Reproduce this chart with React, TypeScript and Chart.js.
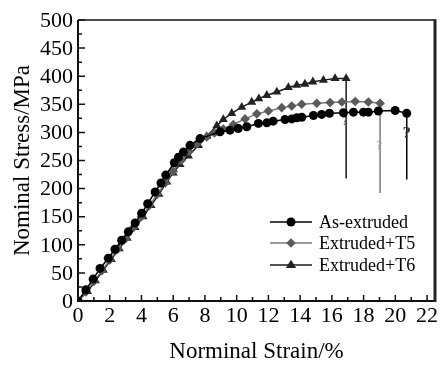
import React, { useEffect, useRef } from 'react';
import { Chart, registerables } from 'chart.js';

Chart.register(...registerables);

const FONT = '"Liberation Serif", "Times New Roman", Times, serif';

// As-extruded
const asStrain = [0, 0.5, 0.95, 1.39, 1.91, 2.33, 2.75, 3.17, 3.6, 4.01, 4.39, 4.86, 5.23, 5.53, 6.07, 6.33, 6.64, 7.06, 7.69, 8.95, 9.58, 10.1, 10.64, 11.37, 11.9, 12.3, 13.05, 13.47, 13.79, 14.1, 14.84, 15.36, 15.85, 16.73, 17.36, 17.99, 18.3, 18.93, 19.99, 20.72];
const asStress = [0, 20, 39, 58, 76, 92, 108, 123, 139, 156, 173, 194, 210, 224, 246, 256, 265, 277, 289, 301, 304, 307, 310, 316, 317, 320, 323, 324, 326, 327, 330, 332, 334, 335, 336, 336, 336, 338, 339, 334];
const asDrop = 216;

// Extruded+T5
const t5Strain = [0, 0.5, 1.0, 1.5, 2.0, 2.5, 3.0, 3.5, 4.0, 4.5, 5.0, 5.5, 6.0, 6.5, 7.0, 7.5, 8.11, 8.6, 9.16, 9.79, 10.53, 11.27, 12.0, 12.84, 13.47, 14.1, 15.05, 15.89, 16.63, 17.47, 18.3, 19.04];
const t5Stress = [0, 16, 35, 54, 73, 92, 111, 131, 150, 170, 190, 210, 231, 250, 266, 280, 292, 299, 306, 314, 324, 333, 338, 344, 347, 350, 352, 353, 354, 355, 354, 352];
const t5Drop = 192;

// Extruded+T6
const t6Strain = [0, 0.6, 1.1, 1.6, 2.1, 2.6, 3.1, 3.6, 4.1, 4.6, 5.1, 5.6, 6.0, 6.43, 6.96, 7.59, 8.11, 8.75, 9.16, 9.69, 10.32, 10.95, 11.4, 11.9, 12.53, 13.26, 13.79, 14.3, 14.8, 15.47, 16.2, 16.9];
const t6Stress = [0, 17, 36, 55, 74, 93, 112, 131, 150, 170, 190, 212, 228, 243, 258, 277, 293, 312, 323, 334, 345, 354, 360, 366, 372, 380, 384, 386, 390, 393, 396, 396];
const t6Drop = 218;

const seriesLabels = ['As-extruded', 'Extruded+T5', 'Extruded+T6'];
const lineColors = ['#000000', '#7a7a7a', '#1a1a1a'];
const markerColors = ['#000000', '#5a5a5a', '#222222'];
const markerStyles = ['circle', 'rectRot', 'triangle'];
const markerRadii = [4.5, 4.8, 5.2];

const xTickValues = [0, 2, 4, 6, 8, 10, 12, 14, 16, 18, 20, 22];
const yTickValues = [0, 50, 100, 150, 200, 250, 300, 350, 400, 450, 500];
const yTickLabels = ['0', '50', '100', '150', '200', '250', '300', '350', '400', '450', '500'];

// stray "?" marks in the figure (strain, stress)
const qmStrain = [16.8, 18.98, 20.72];
const qmStress = [318, 276, 297];
const qmColors = ['#555555', '#888888', '#333333'];
const qmSizes = [12, 13, 17];

const xTitle = 'Norminal Strain/%';
const yTitle = 'Nominal Stress/MPa';

function build(strain: number[], stress: number[], drop: number) {
  const pts = strain.map((x, i) => ({ x, y: stress[i] }));
  pts.push({ x: strain[strain.length - 1], y: drop });
  return pts;
}

function drawMarker(ctx: CanvasRenderingContext2D, style: string, x: number, y: number, r: number, color: string) {
  ctx.save();
  ctx.fillStyle = color;
  ctx.beginPath();
  if (style === 'circle') {
    ctx.arc(x, y, r, 0, Math.PI * 2);
  } else if (style === 'rectRot') {
    ctx.moveTo(x, y - r);
    ctx.lineTo(x + r, y);
    ctx.lineTo(x, y + r);
    ctx.lineTo(x - r, y);
    ctx.closePath();
  } else {
    ctx.moveTo(x, y - r);
    ctx.lineTo(x + r, y + r * 0.6);
    ctx.lineTo(x - r, y + r * 0.6);
    ctx.closePath();
  }
  ctx.fill();
  ctx.restore();
}

const framePlugin = {
  id: 'framePlugin',
  afterDraw(chart: any) {
    const { ctx, chartArea, scales } = chart;
    const { left, right, top, bottom } = chartArea;
    ctx.save();
    for (let i = 0; i < qmStrain.length; i++) {
      ctx.fillStyle = qmColors[i];
      ctx.font = `${i === 2 ? 'bold ' : ''}${qmSizes[i]}px ${FONT}`;
      ctx.textAlign = 'center';
      ctx.textBaseline = 'middle';
      ctx.fillText('?', scales.x.getPixelForValue(qmStrain[i]), scales.y.getPixelForValue(qmStress[i]));
    }
    // y tick labels
    ctx.fillStyle = '#000';
    ctx.font = `22px ${FONT}`;
    ctx.textAlign = 'right';
    ctx.textBaseline = 'middle';
    for (let i = 0; i < yTickValues.length; i++) {
      ctx.fillText(yTickLabels[i], left - 5, scales.y.getPixelForValue(yTickValues[i]) + 1);
    }
    ctx.strokeStyle = '#111';
    ctx.lineWidth = 2;
    ctx.beginPath();
    ctx.moveTo(left, top);
    ctx.lineTo(left, bottom);
    ctx.lineTo(right, bottom);
    ctx.stroke();
    ctx.lineWidth = 1.5;
    ctx.beginPath();
    ctx.moveTo(left, top);
    ctx.lineTo(right, top);
    ctx.stroke();
    ctx.lineWidth = 3;
    ctx.strokeStyle = '#222';
    ctx.beginPath();
    ctx.moveTo(right, top - 0.75);
    ctx.lineTo(right, bottom + 1);
    ctx.stroke();
    ctx.strokeStyle = '#111';
    ctx.lineWidth = 1.5;
    ctx.beginPath();
    for (let v = 0; v <= 22; v += 1) {
      const px = scales.x.getPixelForValue(v);
      const len = v % 2 === 0 ? 6 : 4;
      ctx.moveTo(px, bottom);
      ctx.lineTo(px, bottom - len);
    }
    for (let v = 0; v <= 500; v += 25) {
      const py = scales.y.getPixelForValue(v);
      const len = v % 50 === 0 ? 7 : 4;
      ctx.moveTo(left, py);
      ctx.lineTo(left + len, py);
    }
    ctx.stroke();
    const rowsY = [222, 243, 265];
    const x0 = 270, x1 = 312, tx = 319;
    for (let i = 0; i < seriesLabels.length; i++) {
      const y = rowsY[i];
      ctx.strokeStyle = lineColors[i];
      ctx.lineWidth = 1.5;
      ctx.beginPath();
      ctx.moveTo(x0, y);
      ctx.lineTo(x1, y);
      ctx.stroke();
      drawMarker(ctx, markerStyles[i], (x0 + x1) / 2, y, markerRadii[i], markerColors[i]);
      ctx.fillStyle = '#000';
      ctx.font = `18px ${FONT}`;
      ctx.textAlign = 'left';
      ctx.textBaseline = 'middle';
      ctx.fillText(seriesLabels[i], tx, y + 1);
    }
    ctx.restore();
  },
};

export default function App() {
  const ref = useRef<HTMLCanvasElement>(null);
  useEffect(() => {
    if (!ref.current) return;
    const sets = [
      build(asStrain, asStress, asDrop),
      build(t5Strain, t5Stress, t5Drop),
      build(t6Strain, t6Stress, t6Drop),
    ];
    const chart = new Chart(ref.current, {
      type: 'line',
      data: {
        datasets: sets.map((data, i) => ({
          label: seriesLabels[i],
          data,
          borderColor: lineColors[i],
          backgroundColor: markerColors[i],
          pointBackgroundColor: markerColors[i],
          pointBorderColor: markerColors[i],
          pointBorderWidth: 0,
          pointStyle: markerStyles[i] as any,
          pointRadius: (c: any) => (c.dataIndex === data.length - 1 ? 0 : markerRadii[i]),
          borderWidth: 1.5,
          tension: 0,
          fill: false,
        })),
      },
      options: {
        animation: false,
        responsive: false,
        maintainAspectRatio: false,
        layout: { padding: { top: 20, right: 6, left: 0, bottom: 0 } },
        plugins: { legend: { display: false }, tooltip: { enabled: false } },
        scales: {
          x: {
            type: 'linear',
            min: 0,
            max: 22.5,
            grid: { display: false, drawTicks: false },
            border: { display: false },
            ticks: {
              autoSkip: false,
              maxRotation: 0,
              padding: 2,
              color: '#000',
              font: { family: FONT, size: 22 },
              callback: (v: any) => String(v),
            },
            afterBuildTicks: (s: any) => {
              s.ticks = xTickValues.map((v) => ({ value: v }));
            },
            afterFit: (s: any) => {
              s.height = 66;
            },
            title: {
              display: true,
              text: xTitle,
              color: '#000',
              font: { family: FONT, size: 23 },
              padding: { top: 0, bottom: 1 },
            },
          },
          y: {
            type: 'linear',
            min: 0,
            max: 500,
            grid: { display: false, drawTicks: false },
            border: { display: false },
            ticks: {
              autoSkip: false,
              padding: 5,
              color: 'rgba(0,0,0,0)',
              font: { family: FONT, size: 22 },
              callback: (v: any) => String(v),
            },
            afterBuildTicks: (s: any) => {
              s.ticks = yTickValues.map((v) => ({ value: v }));
            },
            afterFit: (s: any) => {
              s.width = 78;
            },
            title: {
              display: true,
              text: yTitle,
              color: '#000',
              font: { family: FONT, size: 23 },
              padding: { top: 9, bottom: 0 },
            },
          },
        },
      },
      plugins: [framePlugin],
    });
    return () => chart.destroy();
  }, []);
  return (
    <div style={{ position: 'fixed', left: 0, top: 0, width: 441, height: 367, background: '#fff' }}>
      <canvas ref={ref} width={441} height={367} style={{ width: 441, height: 367, display: 'block' }} />
    </div>
  );
}
